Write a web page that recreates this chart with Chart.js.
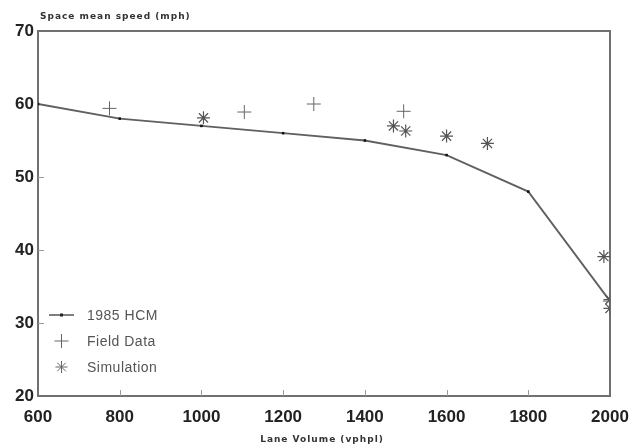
<!DOCTYPE html>
<html>
<head>
<meta charset="utf-8">
<script src="https://cdn.jsdelivr.net/npm/chart.js@4/dist/chart.umd.min.js"></script>
<style>
html,body{margin:0;padding:0;background:#fff;}
#wrap{width:631px;height:445px;position:relative;}
</style>
</head>
<body>
<div id="wrap"><canvas id="c" width="631" height="445"></canvas></div>
<script>
// Data
const hcmVolume = [600, 800, 1000, 1200, 1400, 1600, 1800, 2000];
const hcmSpeed  = [60, 58, 57, 56, 55, 53, 48, 33];
const fieldVolume = [775, 1105, 1275, 1495, 2000];
const fieldSpeed  = [59.4, 58.9, 60.0, 59.0, 33.0];
const simVolume = [1005, 1470, 1500, 1600, 1700, 1985, 2000, 2000];
const simSpeed  = [58.1, 57.0, 56.3, 55.6, 54.6, 39.1, 33.2, 32.0];
const xTicks = [600, 800, 1000, 1200, 1400, 1600, 1800, 2000];
const yTicks = [20, 30, 40, 50, 60, 70];
const seriesNames = ['1985 HCM', 'Field Data', 'Simulation'];
const yTitle = 'Space mean speed (mph)';
const xTitle = 'Lane Volume (vphpl)';

const toXY = (xs, ys) => xs.map((x, i) => ({x: x, y: ys[i]}));

const framePlugin = {
  id: 'frame',
  beforeDatasetsDraw(chart) {
    const {ctx, chartArea: a, scales} = chart;
    ctx.save();
    ctx.strokeStyle = '#707070';
    ctx.lineWidth = 2;
    ctx.strokeRect(a.left, a.top, a.right - a.left, a.bottom - a.top);
    // inward ticks
    ctx.lineWidth = 1;
    ctx.strokeStyle = '#999';
    xTicks.slice(1, -1).forEach(v => {
      const px = Math.round(scales.x.getPixelForValue(v)) + 0.5;
      ctx.beginPath(); ctx.moveTo(px, a.bottom); ctx.lineTo(px, a.bottom - 6); ctx.stroke();
    });
    yTicks.slice(1, -1).forEach(v => {
      const py = Math.round(scales.y.getPixelForValue(v)) + 0.5;
      ctx.beginPath(); ctx.moveTo(a.left, py); ctx.lineTo(a.left + 6, py); ctx.stroke();
    });
    ctx.restore();
  },
  afterDraw(chart) {
    const {ctx, chartArea: a} = chart;
    ctx.save();
    // axis titles
    ctx.fillStyle = '#333';
    ctx.font = 'bold 9px "DejaVu Sans"';
    ctx.letterSpacing = '1px';
    ctx.textBaseline = 'middle';
    ctx.textAlign = 'left';
    ctx.fillText(yTitle, 40, 17);
    ctx.textAlign = 'center';
    ctx.fillText(xTitle, (a.left + a.right) / 2 - 2, 440);
    // legend inside plot
    ctx.textAlign = 'left';
    ctx.letterSpacing = '0.5px';
    ctx.font = '14px "Liberation Sans"';
    const lx = 49, tx = 87, cx = 61.5;
    const rows = [315, 341, 367];
    // row 1: line with small square
    ctx.strokeStyle = '#555'; ctx.lineWidth = 1.5;
    ctx.beginPath(); ctx.moveTo(lx, rows[0]); ctx.lineTo(lx + 25, rows[0]); ctx.stroke();
    ctx.fillStyle = '#222'; ctx.fillRect(cx - 1.5, rows[0] - 1.5, 3, 3);
    // row 2: cross
    ctx.strokeStyle = '#666'; ctx.lineWidth = 1;
    ctx.beginPath();
    ctx.moveTo(cx - 7, rows[1]); ctx.lineTo(cx + 7, rows[1]);
    ctx.moveTo(cx, rows[1] - 7); ctx.lineTo(cx, rows[1] + 7);
    ctx.stroke();
    // row 3: star
    const r = 6;
    ctx.beginPath();
    for (let k = 0; k < 4; k++) {
      const ang = k * Math.PI / 4;
      ctx.moveTo(cx - r * Math.cos(ang), rows[2] - r * Math.sin(ang));
      ctx.lineTo(cx + r * Math.cos(ang), rows[2] + r * Math.sin(ang));
    }
    ctx.stroke();
    ctx.fillStyle = '#555';
    seriesNames.forEach((n, i) => ctx.fillText(n, tx, rows[i] + 1));
    ctx.restore();
  }
};

new Chart(document.getElementById('c'), {
  type: 'scatter',
  data: {
    datasets: [
      {
        label: seriesNames[0],
        type: 'line',
        data: toXY(hcmVolume, hcmSpeed),
        borderColor: '#606060',
        borderWidth: 1.8,
        pointStyle: 'rect',
        pointRadius: 1.8,
        pointBackgroundColor: '#111',
        pointBorderColor: '#111',
        pointBorderWidth: 0,
        tension: 0,
        fill: false,
        order: 2
      },
      {
        label: seriesNames[1],
        data: toXY(fieldVolume, fieldSpeed),
        pointStyle: 'cross',
        pointRadius: 7,
        borderColor: '#666',
        pointBorderWidth: 1,
        backgroundColor: '#666',
        order: 1
      },
      {
        label: seriesNames[2],
        data: toXY(simVolume, simSpeed),
        pointStyle: 'star',
        pointRadius: 6.5,
        borderColor: '#555',
        pointBorderWidth: 1.2,
        backgroundColor: '#555',
        order: 1
      }
    ]
  },
  options: {
    responsive: false,
    animation: false,
    layout: {padding: {top: 31, right: 21, left: 0, bottom: 0}},
    plugins: {
      legend: {display: false},
      tooltip: {enabled: false},
      title: {display: false}
    },
    scales: {
      x: {
        type: 'linear',
        min: 600, max: 2000,
        afterBuildTicks: s => { s.ticks = xTicks.map(v => ({value: v})); },
        grid: {display: false, drawTicks: false},
        border: {display: false},
        ticks: {
          color: '#222',
          font: {family: '"Liberation Sans"', size: 17, weight: 'bold'},
          padding: 11,
          maxRotation: 0,
          autoSkip: false,
          callback: v => String(v)
        },
        title: {display: false},
        afterFit: s => { s.height = 49; s.paddingLeft = 0; s.paddingRight = 0; }
      },
      y: {
        type: 'linear',
        min: 20, max: 70,
        afterBuildTicks: s => { s.ticks = yTicks.map(v => ({value: v})); },
        grid: {display: false, drawTicks: false},
        border: {display: false},
        ticks: {
          color: '#222',
          font: {family: '"Liberation Sans"', size: 17, weight: 'bold'},
          padding: 4,
          callback: v => String(v)
        },
        afterFit: s => { s.width = 38; s.paddingTop = 0; s.paddingBottom = 0; }
      }
    }
  },
  plugins: [framePlugin]
});
</script>
</body>
</html>
